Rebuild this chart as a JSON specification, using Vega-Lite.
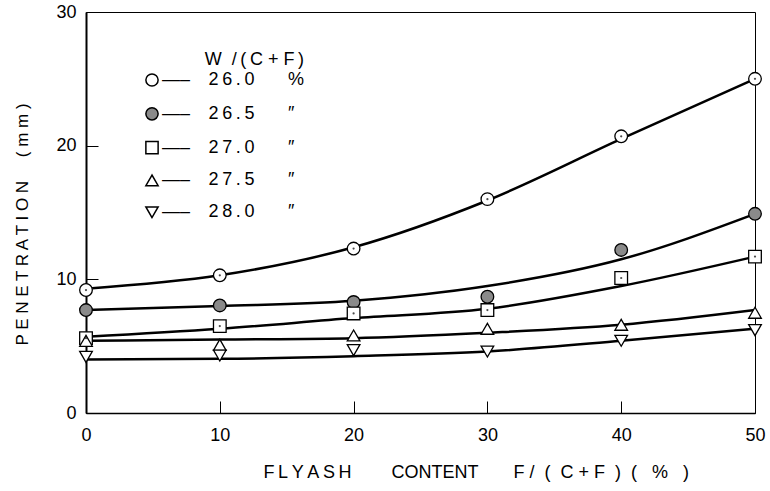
{
  "$schema": "https://vega.github.io/schema/vega-lite/v6.json",
  "width": 669,
  "height": 401,
  "autosize": {"type": "none"},
  "padding": {"left": 86, "top": 12, "right": 15, "bottom": 78},
  "background": "white",
  "config": {
    "font": "Liberation Sans",
    "view": {"stroke": "black", "strokeWidth": 1}
  },
  "datasets": {
    "measured": [
      {"series": "26.0", "x": 0, "y": 9.2}, {"series": "26.0", "x": 10, "y": 10.3}, {"series": "26.0", "x": 20, "y": 12.3},
      {"series": "26.0", "x": 30, "y": 16.0}, {"series": "26.0", "x": 40, "y": 20.7}, {"series": "26.0", "x": 50, "y": 25.0},
      {"series": "26.5", "x": 0, "y": 7.7}, {"series": "26.5", "x": 10, "y": 8.05}, {"series": "26.5", "x": 20, "y": 8.3},
      {"series": "26.5", "x": 30, "y": 8.7}, {"series": "26.5", "x": 40, "y": 12.2}, {"series": "26.5", "x": 50, "y": 14.9},
      {"series": "27.0", "x": 0, "y": 5.6}, {"series": "27.0", "x": 10, "y": 6.5}, {"series": "27.0", "x": 20, "y": 7.45},
      {"series": "27.0", "x": 30, "y": 7.7}, {"series": "27.0", "x": 40, "y": 10.1}, {"series": "27.0", "x": 50, "y": 11.7},
      {"series": "27.5", "x": 0, "y": 5.4}, {"series": "27.5", "x": 10, "y": 5.1}, {"series": "27.5", "x": 20, "y": 5.8},
      {"series": "27.5", "x": 30, "y": 6.3}, {"series": "27.5", "x": 40, "y": 6.6}, {"series": "27.5", "x": 50, "y": 7.5},
      {"series": "28.0", "x": 0, "y": 4.2}, {"series": "28.0", "x": 10, "y": 4.3}, {"series": "28.0", "x": 20, "y": 4.7},
      {"series": "28.0", "x": 30, "y": 4.6}, {"series": "28.0", "x": 40, "y": 5.4}, {"series": "28.0", "x": 50, "y": 6.2}
    ],
    "fitted": [
      {"series": "26.0", "x": 0, "y": 9.3}, {"series": "26.0", "x": 10, "y": 10.3}, {"series": "26.0", "x": 20, "y": 12.4},
      {"series": "26.0", "x": 30, "y": 15.9}, {"series": "26.0", "x": 40, "y": 20.5}, {"series": "26.0", "x": 50, "y": 25.0},
      {"series": "26.5", "x": 0, "y": 7.7}, {"series": "26.5", "x": 10, "y": 8.0}, {"series": "26.5", "x": 20, "y": 8.4},
      {"series": "26.5", "x": 30, "y": 9.5}, {"series": "26.5", "x": 40, "y": 11.5}, {"series": "26.5", "x": 50, "y": 14.9},
      {"series": "27.0", "x": 0, "y": 5.7}, {"series": "27.0", "x": 10, "y": 6.3}, {"series": "27.0", "x": 20, "y": 7.1},
      {"series": "27.0", "x": 30, "y": 7.8}, {"series": "27.0", "x": 40, "y": 9.5}, {"series": "27.0", "x": 50, "y": 11.7},
      {"series": "27.5", "x": 0, "y": 5.4}, {"series": "27.5", "x": 10, "y": 5.5}, {"series": "27.5", "x": 20, "y": 5.6},
      {"series": "27.5", "x": 30, "y": 6.0}, {"series": "27.5", "x": 40, "y": 6.6}, {"series": "27.5", "x": 50, "y": 7.7},
      {"series": "28.0", "x": 0, "y": 4.0}, {"series": "28.0", "x": 10, "y": 4.05}, {"series": "28.0", "x": 20, "y": 4.25},
      {"series": "28.0", "x": 30, "y": 4.6}, {"series": "28.0", "x": 40, "y": 5.4}, {"series": "28.0", "x": 50, "y": 6.3}
    ]
  },
  "encoding": {
    "x": {
      "field": "x",
      "type": "quantitative",
      "scale": {"domain": [0, 50], "nice": false, "zero": false},
      "axis": {
        "values": [0, 10, 20, 30, 40, 50],
        "grid": false,
        "tickSize": -12,
        "tickColor": "black",
        "tickWidth": 1,
        "domainColor": "black",
        "domainWidth": 1.6,
        "labelFontSize": 18,
        "labelColor": "black",
        "labelPadding": 25,
        "labelFlush": false,
        "title": "F\u2009L\u2009Y\u2009A\u2009S\u2009H\u00a0\u00a0\u00a0\u00a0\u00a0\u00a0\u00a0\u00a0CONTENT\u00a0\u00a0\u00a0\u00a0\u00a0\u00a0\u00a0F\u00a0/\u00a0\u00a0(\u00a0\u00a0C\u00a0+\u00a0F\u00a0\u00a0)\u00a0\u00a0(\u00a0\u00a0\u00a0%\u00a0\u00a0\u00a0)",
        "titleFontSize": 18,
        "titleFontWeight": "normal",
        "titleColor": "black",
        "titleX": 177,
        "titleY": 64,
        "titleAlign": "left",
        "titleBaseline": "alphabetic"
      }
    },
    "y": {
      "field": "y",
      "type": "quantitative",
      "scale": {"domain": [0, 30], "nice": false},
      "axis": {
        "values": [0, 10, 20, 30],
        "grid": false,
        "tickSize": -12,
        "tickColor": "black",
        "tickWidth": 1,
        "domainColor": "black",
        "domainWidth": 2,
        "labelFontSize": 18,
        "labelColor": "black",
        "labelPadding": 22,
        "labelFlush": false,
        "title": "P E N E T R A T I O N\u00a0\u00a0\u00a0\u00a0\u00a0( m m )",
        "titleFontSize": 17,
        "titleFontWeight": "normal",
        "titleColor": "black",
        "titleX": -64,
        "titleY": 212,
        "titleAngle": -90,
        "titleAlign": "center",
        "titleBaseline": "middle"
      }
    }
  },
  "layer": [
    {
      "data": {"name": "fitted"},
      "mark": {"type": "line", "color": "black", "strokeWidth": 2.5, "interpolate": "monotone"},
      "encoding": {"detail": {"field": "series"}}
    },
    {
      "data": {"name": "measured"},
      "mark": {"type": "point", "filled": true, "stroke": "black", "strokeWidth": 1.3, "size": 160, "opacity": 1},
      "encoding": {
        "shape": {
          "field": "series",
          "type": "nominal",
          "scale": {
            "domain": ["26.0", "26.5", "27.0", "27.5", "28.0"],
            "range": ["circle", "circle", "square", "triangle-up", "triangle-down"]
          },
          "legend": {
            "orient": "none",
            "legendX": 57,
            "legendY": 39,
            "title": "W\u00a0\u00a0/\u2009(\u2009C\u00a0+\u00a0F\u2009)",
            "titleFontSize": 18,
            "titleFontWeight": "normal",
            "titleColor": "black",
            "titleAnchor": "end",
            "titlePadding": 2,
            "labelFontSize": 18,
            "labelColor": "black",
            "labelOffset": 1,
            "rowPadding": 13.8,
            "symbolSize": 150,
            "labelExpr": "'\u2014\u2013\u00a0\u00a0\u00a0\u2009' + replace(datum.label, /(.)(?=.)/g, '$1\u2009') + '\u00a0\u00a0\u00a0\u00a0\u00a0\u00a0\u2009' + (datum.label == '26.0' ? '%' : '\u2033')",
            "encode": {
              "symbols": {"update": {"stroke": {"value": "black"}, "strokeWidth": {"value": 1.3}}}
            }
          }
        },
        "fill": {
          "field": "series",
          "type": "nominal",
          "scale": {
            "domain": ["26.0", "26.5", "27.0", "27.5", "28.0"],
            "range": ["white", "#8a8a8a", "white", "white", "white"]
          }
        }
      }
    },
    {
      "data": {"name": "measured"},
      "transform": [{"filter": "datum.series == '26.0' || datum.series == '27.0'"}],
      "mark": {"type": "point", "filled": true, "color": "black", "size": 5, "shape": "circle"}
    }
  ]
}
